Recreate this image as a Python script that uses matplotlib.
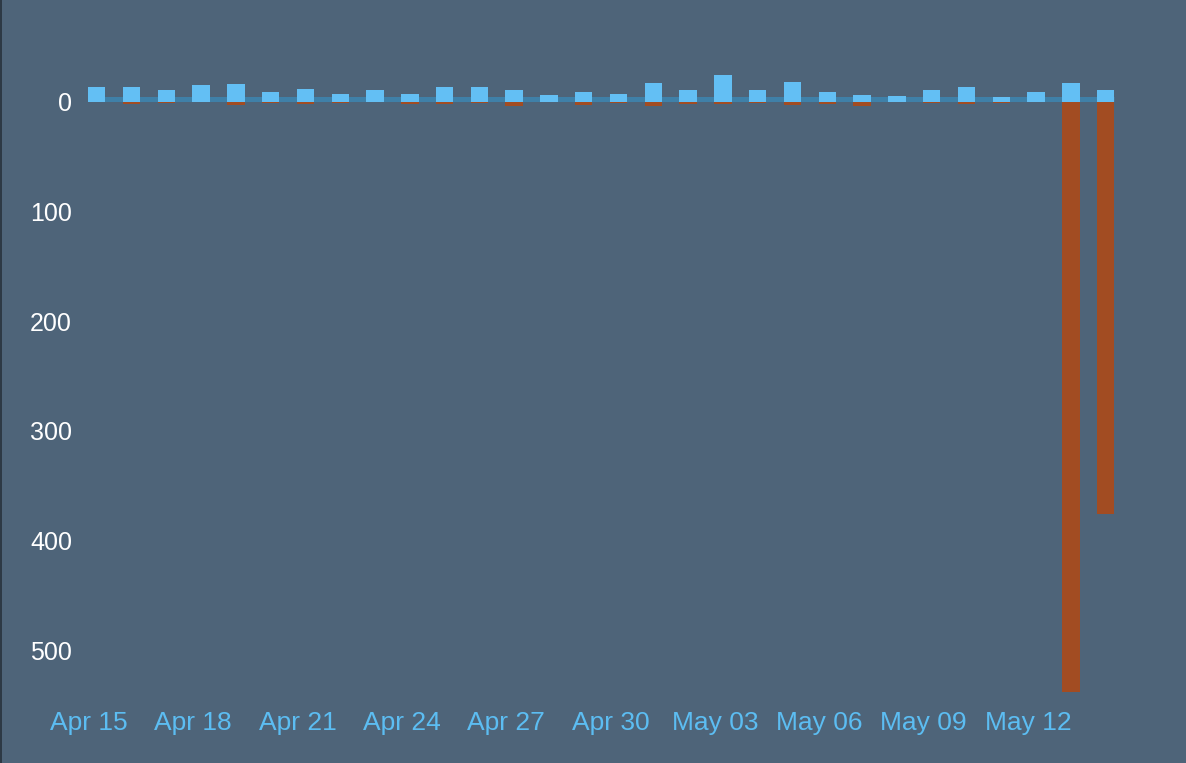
import matplotlib
matplotlib.use("Agg")
import matplotlib.pyplot as plt
from matplotlib.ticker import FuncFormatter
from matplotlib.lines import Line2D

# ---- data ----
dates = ["Apr 15", "Apr 16", "Apr 17", "Apr 18", "Apr 19", "Apr 20", "Apr 21", "Apr 22",
         "Apr 23", "Apr 24", "Apr 25", "Apr 26", "Apr 27", "Apr 28", "Apr 29", "Apr 30",
         "May 01", "May 02", "May 03", "May 04", "May 05", "May 06", "May 07", "May 08",
         "May 09", "May 10", "May 11", "May 12", "May 13", "May 14"]
positive = [13, 13, 11, 15, 16, 9, 12, 7, 11, 7, 13, 13, 11, 6, 9, 7,
            17, 11, 24, 11, 18, 9, 6, 5, 11, 13, 4, 9, 17, 11]
negative = [0, 2, 1, 0, 3, 1, 2, 1, 0, 2, 2, 1, 4, 0, 3, 1,
            4, 2, 2, 1, 3, 2, 4, 0, 1, 2, 1, 0, 538, 376]
y_ticks = [0, 100, 200, 300, 400, 500]

# ---- style ----
BG = "#4e6479"
BLUE = "#63bff4"
ORANGE = "#a24c22"
XLAB = "#5cbdf2"
BAND = "#3f80a8"
W, H = 1186, 763

fig = plt.figure(figsize=(W / 100, H / 100), dpi=100, facecolor=BG)
ax_left, ax_bottom_px = 80, 703
ax = fig.add_axes([ax_left / W, (H - ax_bottom_px) / H, (W - ax_left) / W, ax_bottom_px / H])
ax.set_facecolor(BG)

x = list(range(len(dates)))
bw = 0.5
ax.bar(x, positive, width=bw, color=BLUE, zorder=3, linewidth=0)
ax.bar(x, [-v for v in negative], width=bw, color=ORANGE, zorder=3, linewidth=0)
ax.hlines(2.3, x[0] - bw / 2, x[-1] + bw / 2, colors=BAND, linewidth=3.6, zorder=2)

ax.set_xlim(-0.48, 31.31)
ax.set_ylim(-548.1, 92.7)

ax.set_yticks([-v for v in y_ticks])
ax.yaxis.set_major_formatter(FuncFormatter(lambda v, p: f"{abs(v):.0f}"))
ax.set_xticks([i - 0.23 for i in x[::3]])
ax.set_xticklabels(dates[::3])

font = "Liberation Sans"
ax.tick_params(axis="x", length=0, pad=5.5, labelsize=19, labelcolor=XLAB)
ax.tick_params(axis="y", length=0, pad=5.8, labelsize=18, labelcolor="white")
for lab in ax.get_xticklabels() + ax.get_yticklabels():
    lab.set_fontfamily(font)
for s in ax.spines.values():
    s.set_visible(False)

fig.add_artist(Line2D([0.5 / W, 0.5 / W], [0, 1], color="#27313b", linewidth=1.2))

fig.savefig("out.png", dpi=100, facecolor=BG)
